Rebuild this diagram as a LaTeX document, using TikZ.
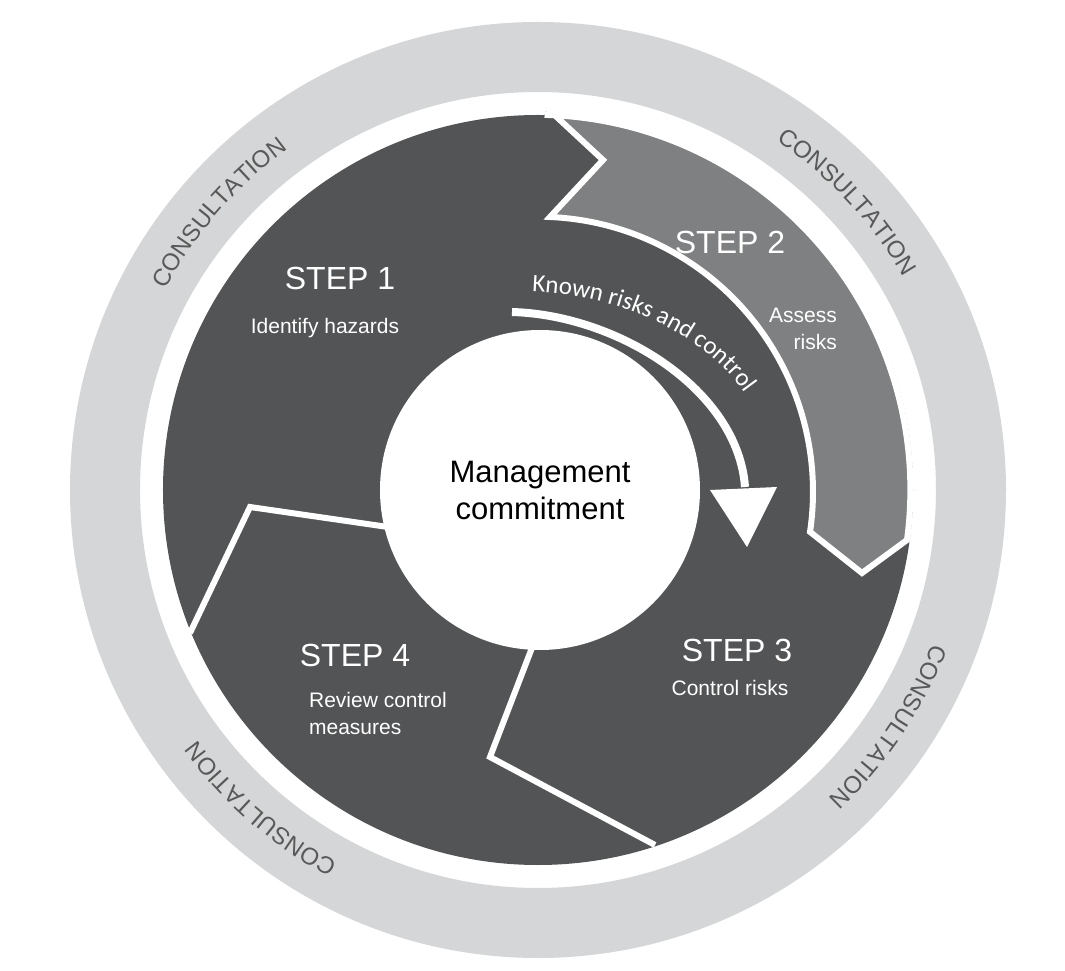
\documentclass[tikz,border=0pt]{standalone}
\usepackage{fontspec}
\setmainfont{Liberation Sans}
\newfontfamily\arrowfont{Carlito}
\usetikzlibrary{decorations.text}
\definecolor{ringgrey}{HTML}{D5D6D8}
\definecolor{stepdark}{HTML}{535456}
\definecolor{steplight}{HTML}{7F8082}
\tikzset{
  steptitle/.style={text=white,font=\fontsize{32}{34}\selectfont},
  stepsub/.style={text=white,font=\fontsize{21}{27}\selectfont},
  cutline/.style={draw=white,line width=6pt,line join=miter},
}
\begin{document}
\begin{tikzpicture}[x=1pt,y=1pt]
    \useasboundingbox (-538,-481) rectangle (527,490);
    \fill[white] (-538,-481) rectangle (527,490);

    % consultation ring and dark disk
    \fill[ringgrey,even odd rule] (0,0) circle[radius=468] (0,0) circle[radius=398];
    \fill[stepdark] (0,0) circle[radius=375];

    % step 2 segment
    \path[fill=steplight,cutline] (9,382) -- (65,330) -- (12,273)
        arc[start angle=87.5,end angle=-8.4,radius=275] -- (324,-83) -- (369,-50)
        arc[start angle=-7.7,end angle=88.6,radius=375];

    % separators
    \draw[cutline] (-3,-150) -- (-48,-267) -- (117,-355);
    \draw[cutline] (-150,-37) -- (-288,-17) -- (-348,-143);

    % centre
    \node[circle,fill=white,minimum size=320pt,inner sep=0,align=center,
      font=\fontsize{31}{37}\selectfont] (centre) at (2,0) {Management\\commitment};

    % arrow
    \draw[white,line width=8pt] (-26,178) .. controls (80,175) and (200,100) .. (207,3);
    \fill[white] (172,0) -- (239,3) -- (209,-57) -- cycle;
    \path[decorate,decoration={text along path,text color=white,
      text={|\arrowfont\fontsize{25}{27}\selectfont|Known risks and control}}]
      (-6,198) .. controls (118,194) and (230,118) .. (234,22);

    % step labels
    \node[steptitle] (s1) at (-198,212) {STEP 1};
    \node[stepsub] (s1t) at (-213,162) {Identify hazards};
    \node[steptitle] (s2) at (192,248) {STEP 2};
    \node[stepsub,align=right] (s2t) at (265,161) {Assess\\risks};
    \node[steptitle] (s3) at (199,-160) {STEP 3};
    \node[stepsub] (s3t) at (192,-198) {Control risks};
    \node[steptitle] (s4) at (-183,-165) {STEP 4};
    \node[stepsub,align=left] (s4t) at (-160,-223) {Review control\\measures};

    % consultation labels
    \foreach \ang in {139,43,-34,-131}
      \path[decorate,decoration={text along path,text align=center,text color=black!65,
        text={|\fontsize{24}{26}\selectfont|CONSULTATION}}]
        (\ang+30:423) arc[start angle=\ang+30,end angle=\ang-30,radius=423];
\end{tikzpicture}
\end{document}
